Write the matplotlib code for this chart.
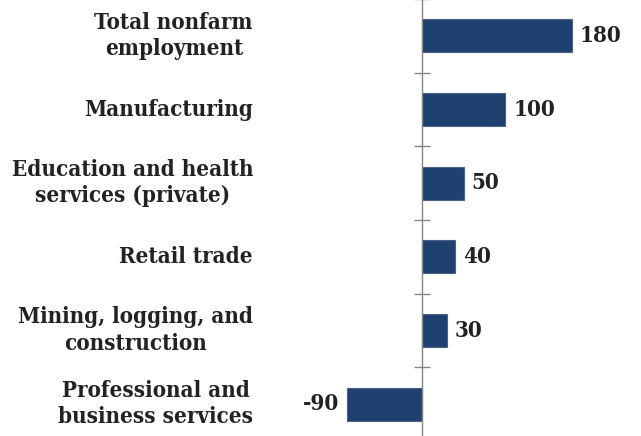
import matplotlib
matplotlib.use("Agg")
import matplotlib.pyplot as plt
import matplotlib.transforms as mtransforms

categories = ["Total nonfarm\nemployment", "Manufacturing",
              "Education and health\nservices (private)", "Retail trade",
              "Mining, logging, and\nconstruction", "Professional and\nbusiness services"]
values = [180, 100, 50, 40, 30, -90]
value_labels = ["180", "100", "50", "40", "30", "-90"]

W, H = 641, 436
fig = plt.figure(figsize=(W / 100, H / 100), dpi=100)
ax = fig.add_axes([0, -5 / H, 1, 442 / H])

zero_px = 422
scale = 150 / 180.0  # px per unit
ax.set_xlim(-zero_px / scale, (W - zero_px) / scale)
n = len(categories)
ax.set_ylim(n - 0.5, -0.5)

bar_color = "#1F4170"
ax.barh(range(n), values, height=0.45, color=bar_color,
        edgecolor="#4a6488", linewidth=0.8, zorder=2)

for s in ["top", "right", "bottom"]:
    ax.spines[s].set_visible(False)
ax.spines["left"].set_position(("data", 0))
ax.spines["left"].set_color("#858585")
ax.spines["left"].set_linewidth(1.0)
ax.set_xticks([])
ax.set_yticks([i + 0.5 for i in range(-1, n)])
ax.set_yticklabels([])
ax.tick_params(axis="y", which="major", direction="inout", length=11,
               color="#858585", width=1.0)

font = dict(family="DejaVu Serif", weight="bold", stretch="condensed", color="#222222")
fs = 16
trans = mtransforms.blended_transform_factory(fig.transFigure, ax.transData)
for i, (cat, v, lab) in enumerate(zip(categories, values, value_labels)):
    ax.text(253 / W, i, cat, transform=trans, ha="right", va="center",
            multialignment="center", fontsize=fs, linespacing=1.25, **font)
    off = 8 / scale
    if v >= 0:
        ax.text(v + off, i, lab, ha="left", va="center", fontsize=fs, **font)
    else:
        ax.text(v - off, i, lab, ha="right", va="center", fontsize=fs, **font)

fig.savefig("out.png", dpi=100)
